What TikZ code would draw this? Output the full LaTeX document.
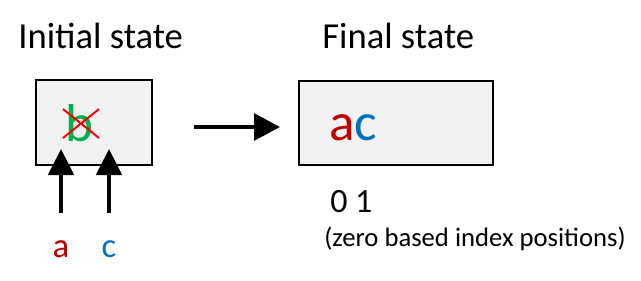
\documentclass[tikz,border=0pt]{standalone}
\usepackage{fontspec}
\setmainfont{Carlito}
\usetikzlibrary{arrows.meta,positioning}
\definecolor{chred}{HTML}{C00000}
\definecolor{chblue}{HTML}{0070C0}
\definecolor{chgreen}{HTML}{00B050}
\definecolor{boxgray}{HTML}{F2F2F2}
\tikzset{
  statebox/.style={draw,fill=boxgray,line width=1.1pt},
  statetit/.style={anchor=base west,font=\fontsize{27.5}{30}\selectfont,inner sep=0pt},
  ptrarr/.style={-{Triangle[width=19pt,length=19.5pt]},line width=3pt},
  steparr/.style={-{Triangle[width=20pt,length=19.5pt]},line width=3pt},
  ptrlab/.style={anchor=base,font=\fontsize{26}{30}\selectfont,inner sep=0pt},
  strtxt/.style={font=\fontsize{40}{44}\selectfont,inner sep=0pt}
}
\begin{document}
\begin{tikzpicture}[x=0.75pt,y=-0.75pt]
  \useasboundingbox (0,0) rectangle (641,280);
  % initial state
  \node[statetit] (tinit) at (18,48) {Initial state};
  \draw[statebox] (36,80) rectangle (152,165);
  \node[strtxt,anchor=base,text=chgreen] (b) at (80,141) {b};
  \draw[red,line width=1.5pt] (63,109) -- (99,138) (63,138) -- (99,109);
  \node[ptrlab,text=chred] (pa) at (61,257) {a};
  \node[ptrlab,text=chblue] (pc) at (109,257) {c};
  \coordinate (pa0) at (61,213);
  \coordinate (pa1) at (61,149);
  \coordinate (pc0) at (109,213);
  \coordinate (pc1) at (109,149);
  \draw[ptrarr] (pa0) -- (pa1);
  \draw[ptrarr] (pc0) -- (pc1);
  % step
  \coordinate (s0) at (194,127);
  \coordinate (s1) at (280,127);
  \draw[steparr] (s0) -- (s1);
  % final state
  \node[statetit] (tfin) at (322,48) {Final state};
  \draw[statebox] (299,81) rectangle (493,165);
  \node[strtxt,anchor=base west] (ac) at (329,140) {\textcolor{chred}{a}\textcolor{chblue}{c}};
  \node[anchor=base west,font=\fontsize{25.5}{28}\selectfont,inner sep=0pt] (idx) at (330,212) {0 1};
  \node[anchor=base west,font=\fontsize{20}{24}\selectfont,inner sep=0pt] (note) at (324,246) {(zero based index positions)};
\end{tikzpicture}
\end{document}
